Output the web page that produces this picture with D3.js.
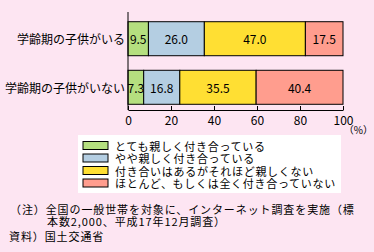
<!DOCTYPE html>
<html>
<head>
<meta charset="utf-8">
<script src="https://cdn.jsdelivr.net/npm/d3@7"></script>
<style>
  body { margin: 0; background: #fde5f2; }
  svg { display: block; font-family: "Noto Sans CJK JP", sans-serif; }
</style>
</head>
<body>
<svg width="374" height="252"></svg>
<script>
const categories = ['学齢期の子供がいる', '学齢期の子供がいない']
const seriesNames = ['とても親しく付き合っている', 'やや親しく付き合っている', '付き合いはあるがそれほど親しくない', 'ほとんど、もしくは全く付き合っていない']
const veryClose = [9.5, 7.3]
const somewhatClose = [26.0, 16.8]
const notVeryClose = [47.0, 35.5]
const notAtAll = [17.5, 40.4]
const xTicks = [0, 20, 40, 60, 80, 100]
const notes = ['（注）全国の一般世帯を対象に、インターネット調査を実施（標', '本数2,000、平成17年12月調査）', '資料）国土交通省']

const colors = ['#b5df7f', '#b4cee2', '#ffdf33', '#ff9d8e']
const series = [veryClose, somewhatClose, notVeryClose, notAtAll]

const svg = d3.select('svg')
const x = d3.scaleLinear().domain([0, 100]).range([128, 343])
const y = d3.scaleBand().domain(categories).range([12, 114]).paddingInner(0.3).paddingOuter(0.2)

// stacked rows
categories.forEach((c, ci) => {
  let acc = 0
  series.forEach((s, si) => {
    const v = s[ci]
    const g = svg.append('g')
    g.append('rect')
      .attr('x', x(acc)).attr('y', y(c))
      .attr('width', x(acc + v) - x(acc)).attr('height', y.bandwidth())
      .attr('fill', colors[si]).attr('stroke', '#000').attr('stroke-width', 1)
    g.append('text')
      .attr('x', x(acc + v / 2)).attr('y', y(c) + y.bandwidth() / 2)
      .attr('text-anchor', 'middle').attr('dominant-baseline', 'central')
      .style('font-size', '12px')
      .text(v.toFixed(1))
    acc += v
  })
  svg.append('text')
    .attr('x', 125).attr('y', y(c) + y.bandwidth() / 2)
    .attr('text-anchor', 'end').attr('dominant-baseline', 'central')
    .style('font-size', '12px')
    .text(c)
})

// axes
const xAxis = d3.axisBottom(x).tickValues(xTicks).tickSize(-4).tickPadding(6).tickSizeOuter(0)
const ax = svg.append('g').attr('transform', 'translate(0,110)').call(xAxis)
ax.select('.domain').attr('stroke', '#000')
ax.selectAll('text').style('font-size', '12px').style('font-family', '"Noto Sans CJK JP", sans-serif')
svg.append('line').attr('x1', 128).attr('x2', 128).attr('y1', 12).attr('y2', 110).attr('stroke', '#000')
svg.append('text').attr('x', 373).attr('y', 134).attr('text-anchor', 'end')
  .style('font-size', '10px').text('（%）')

// legend
svg.append('rect').attr('x', 78).attr('y', 135).attr('width', 263).attr('height', 58).attr('fill', '#fff')
seriesNames.forEach((n, i) => {
  const ly = 145.5 + i * 12.5
  svg.append('rect').attr('x', 83).attr('y', ly - 4).attr('width', 25).attr('height', 8)
    .attr('fill', colors[i]).attr('stroke', '#000')
  svg.append('text').attr('x', 115).attr('y', ly).attr('dominant-baseline', 'central')
    .style('font-size', '11px').style('letter-spacing', '0.7px').text(n)
})

// notes
const noteStyle = t => t.attr('dominant-baseline', 'central').style('font-size', '11px').style('letter-spacing', '0.9px')
svg.append('text').attr('x', 10).attr('y', 209).call(noteStyle).text(notes[0])
svg.append('text').attr('x', 47).attr('y', 221).call(noteStyle).text(notes[1])
svg.append('text').attr('x', 9).attr('y', 236).call(noteStyle).text(notes[2])
</script>
</body>
</html>
